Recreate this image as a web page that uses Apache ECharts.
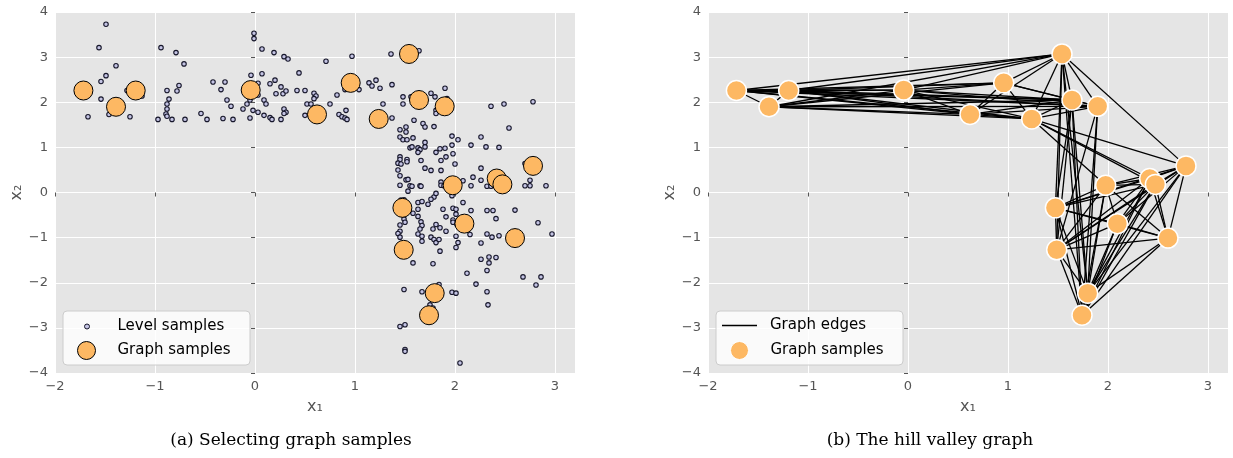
<!DOCTYPE html>
<html>
<head>
<meta charset="utf-8">
<title>Hill valley graph</title>
<script src="https://cdn.jsdelivr.net/npm/echarts@6/dist/echarts.min.js"></script>
<style>
  html, body { margin: 0; padding: 0; background: #fff; }
  #chart { width: 1233px; height: 458px; }
</style>
</head>
<body>
<div id="chart"></div>
<script>
// Graph samples (x1, x2) shared by both panels
const graphX = [-1.716, -1.39, -1.193, -0.043, 0.62, 0.957, 1.237, 1.54, 1.64, 1.897,
                2.78, 1.977, 2.417, 2.474, 1.474, 2.094, 2.60, 1.487, 1.797, 1.74];
const graphY = [2.26, 1.90, 2.26, 2.27, 1.73, 2.43, 1.63, 3.07, 2.05, 1.91,
                0.59, 0.16, 0.31, 0.18, -0.34, -0.69, -1.01, -1.27, -2.23, -2.72];

// Level samples (x1, x2)
const levelSamples = [
  [-1.49, 3.73], [-1.56, 3.21], [-1.54, 2.46], [-1.49, 2.59], [-1.39, 2.81], [-1.54, 2.07],
  [-1.67, 1.68], [-1.46, 1.73], [-1.28, 2.26], [-1.25, 1.68], [-1.13, 2.14], [-1.78, 2.23],
  [-0.94, 3.21], [-0.97, 1.62], [-0.88, 2.26], [-0.86, 2.07], [-0.88, 1.96], [-0.88, 1.85],
  [-0.89, 1.74], [-0.88, 1.69], [-0.83, 1.62], [-0.79, 3.10], [-0.78, 2.25], [-0.76, 2.37],
  [-0.71, 2.85], [-0.70, 1.62], [-0.54, 1.75], [-0.48, 1.62], [-0.42, 2.45], [-0.34, 2.28],
  [-0.30, 2.45], [-0.28, 2.05], [-0.32, 1.64], [-0.24, 1.91], [-0.22, 1.62], [-0.12, 1.85],
  [-0.08, 1.96], [-0.04, 2.60], [-0.05, 2.05], [-0.05, 1.65], [-0.02, 1.82], [-0.01, 3.53],
  [-0.01, 3.41], [0.03, 2.42], [0.03, 2.16], [0.07, 3.18], [0.07, 2.63], [0.03, 1.78],
  [0.09, 2.05], [0.11, 1.96], [0.09, 1.71], [0.15, 2.41], [0.20, 2.49], [0.19, 3.10],
  [0.21, 2.19], [0.15, 1.66], [0.17, 1.62], [0.26, 1.62], [0.26, 2.34], [0.28, 2.19],
  [0.29, 3.01], [0.33, 2.96], [0.31, 2.25], [0.29, 1.85], [0.31, 1.78], [0.29, 1.75],
  [0.44, 2.65], [0.42, 2.26], [0.50, 2.26], [0.50, 1.71], [0.52, 1.96], [0.56, 1.96],
  [0.59, 2.20], [0.61, 2.14], [0.59, 2.08], [0.71, 2.91], [0.75, 1.96], [0.82, 2.16],
  [0.84, 1.73], [0.97, 3.02], [0.90, 2.28], [0.91, 1.82], [0.87, 1.68], [0.90, 1.65],
  [0.92, 1.62], [1.04, 2.28], [1.14, 2.43], [1.17, 2.36], [1.21, 2.49], [1.25, 2.31],
  [1.37, 2.39], [1.28, 1.96], [1.37, 1.65], [1.36, 3.07], [1.64, 3.14], [1.48, 2.12],
  [1.48, 1.96], [1.56, 2.12], [1.59, 1.60], [1.76, 2.20], [1.80, 2.12], [1.90, 2.31],
  [1.92, 2.08], [1.81, 1.82], [1.81, 1.75], [1.68, 1.53], [1.70, 1.45], [1.79, 1.46],
  [1.45, 1.39], [1.51, 1.45], [1.51, 1.34], [1.45, 1.23], [1.48, 1.17], [1.52, 1.17],
  [1.58, 1.21], [1.70, 1.11], [1.55, 0.99], [1.57, 1.01], [1.63, 0.99], [1.65, 0.95],
  [1.70, 1.01], [1.63, 0.89], [1.81, 0.89], [1.85, 0.97], [1.90, 0.98], [1.97, 1.25],
  [2.03, 1.17], [1.97, 1.05], [1.98, 0.86], [2.16, 1.05], [2.26, 1.23], [2.31, 1.01],
  [2.44, 1.00], [2.36, 1.91], [2.49, 1.96], [2.78, 2.01], [2.54, 1.43], [1.45, 0.79],
  [1.45, 0.73], [1.43, 0.65], [1.46, 0.63], [1.52, 0.73], [1.52, 0.68], [1.66, 0.71],
  [1.86, 0.71], [1.91, 0.79], [2.00, 0.63], [1.43, 0.50], [1.45, 0.37], [1.70, 0.54],
  [1.76, 0.49], [1.86, 0.49], [2.26, 0.54], [2.18, 0.34], [2.26, 0.27], [2.08, 0.26],
  [1.51, 0.28], [1.53, 0.29], [1.55, 0.15], [1.57, 0.14], [1.65, 0.15], [1.66, 0.14],
  [1.45, 0.16], [1.86, 0.23], [1.86, 0.16], [2.16, 0.15], [2.32, 0.14], [2.36, 0.14],
  [2.70, 0.64], [2.75, 0.27], [2.70, 0.15], [2.75, 0.15], [2.91, 0.15], [1.53, 0.03],
  [1.79, -0.10], [1.81, -0.02], [1.76, -0.15], [1.49, -0.16], [1.46, -0.17], [1.97, -0.07],
  [1.89, 0.15], [1.73, -0.26], [2.08, -0.22], [2.16, -0.40], [1.63, -0.22], [1.67, -0.20],
  [1.63, -0.37], [1.58, -0.46], [1.63, -0.53], [1.66, -0.65], [1.67, -0.73], [1.65, -0.81],
  [1.63, -0.92], [1.67, -0.97], [1.67, -1.08], [1.49, -0.59], [1.50, -0.66], [1.45, -0.72],
  [1.45, -0.86], [1.43, -0.91], [1.45, -0.99], [1.88, -0.37], [1.91, -0.54], [1.98, -0.35],
  [2.01, -0.37], [2.01, -0.48], [1.98, -0.61], [1.98, -0.66], [2.02, -0.71], [1.91, -0.86],
  [1.81, -0.71], [1.78, -0.81], [1.85, -0.78], [1.76, -0.99], [1.79, -1.04], [1.81, -1.11],
  [1.84, -1.04], [1.85, -1.30], [2.01, -0.97], [2.03, -1.11], [2.01, -1.22], [2.15, -0.93],
  [2.26, -1.12], [2.32, -0.92], [2.37, -0.99], [2.44, -0.96], [2.32, -0.40], [2.38, -0.40],
  [2.41, -0.58], [2.60, -0.39], [2.83, -0.67], [2.97, -0.92], [2.26, -1.48], [2.34, -1.43],
  [2.34, -1.56], [2.41, -1.44], [2.32, -1.73], [2.12, -1.79], [2.21, -2.03], [2.32, -2.20],
  [2.33, -2.49], [2.68, -1.87], [2.86, -1.87], [2.81, -2.05], [1.58, -1.56], [1.78, -1.58],
  [1.49, -2.15], [1.67, -2.20], [1.84, -2.04], [1.97, -2.21], [2.01, -2.23], [1.75, -2.49],
  [1.78, -2.56], [1.45, -2.97], [1.50, -2.93], [1.50, -3.48], [1.50, -3.52], [2.05, -3.78]
];

// Hill valley graph edges, as pairs of graph-sample indices
const graphEdges = [
  [0,1],[0,2],[0,3],[0,4],[0,5],[0,6],[0,7],[0,8],[0,9],
  [1,2],[1,3],[1,4],[1,5],[1,6],[1,7],[1,8],[1,9],
  [2,3],[2,4],[2,5],[2,6],[2,7],[2,8],[2,9],
  [3,4],[3,5],[3,6],[3,7],[3,8],[3,9],
  [4,5],[4,6],[4,7],[4,8],[4,9],
  [5,6],[5,7],[5,8],[5,9],
  [6,7],[6,8],[6,9],
  [7,8],[7,9],
  [8,9],
  [10,11],[10,12],[10,13],[10,14],[10,15],[10,16],[10,17],[10,18],[10,19],
  [11,12],[11,13],[11,14],[11,15],[11,16],[11,17],[11,18],[11,19],
  [12,13],[12,14],[12,15],[12,16],[12,17],[12,18],[12,19],
  [13,14],[13,15],[13,16],[13,17],[13,18],[13,19],
  [14,15],[14,16],[14,17],[14,18],[14,19],
  [15,16],[15,17],[15,18],[15,19],
  [16,17],[16,18],[16,19],
  [17,18],[17,19],
  [18,19],
  [7,10],[7,14],[7,17],[7,18],[7,19],
  [8,14],[8,17],[8,18],[8,19],
  [9,17],[9,18],[9,19],
  [6,10],[6,11],[6,12],[6,13]
];

// Axis ticks
const xTicks = [-2, -1, 0, 1, 2, 3];
const yTicks = [-4, -3, -2, -1, 0, 1, 2, 3, 4];

const FONT = 'DejaVu Sans';
const ORANGE = '#FDB863';

const graphPoints = graphX.map((x, i) => [x, graphY[i]]);
const edgeData = graphEdges.map(([a, b]) => ({ coords: [graphPoints[a], graphPoints[b]] }));

const tickFmt = v => (v < 0 ? '\u2212' + Math.abs(v) : String(v));

function xAxisFor(gridIndex) {
  return {
    type: 'value', gridIndex,
    min: xTicks[0], max: 3.2, interval: 1,
    name: 'x\u2081', nameLocation: 'middle', nameGap: 26,
    nameTextStyle: { fontFamily: FONT, fontSize: 16, color: '#555' },
    axisLine: { show: false },
    axisTick: { show: true, length: 4, lineStyle: { color: '#555' } },
    axisLabel: { color: '#555', fontFamily: FONT, fontSize: 13, margin: 7,
                 showMaxLabel: false, formatter: tickFmt },
    splitLine: { show: true, lineStyle: { color: '#fff', width: 1 } }
  };
}
function yAxisFor(gridIndex) {
  return {
    type: 'value', gridIndex,
    min: yTicks[0], max: yTicks[yTicks.length - 1], interval: 1,
    name: 'x\u2082', nameLocation: 'middle', nameGap: 30, nameRotate: 90,
    nameTextStyle: { fontFamily: FONT, fontSize: 16, color: '#555' },
    axisLine: { show: false },
    axisTick: { show: true, length: 4, lineStyle: { color: '#555' } },
    axisLabel: { color: '#555', fontFamily: FONT, fontSize: 13, margin: 7, formatter: tickFmt },
    splitLine: { show: true, lineStyle: { color: '#fff', width: 1 } }
  };
}

function legendAt(item, left, top, w, h, pad) {
  return {
    data: [item], left, top, orient: 'horizontal', padding: 0,
    itemWidth: w, itemHeight: h, selectedMode: false, z: 6,
    textStyle: { fontFamily: FONT, fontSize: 15, color: '#000', padding: [0, 0, 0, pad] }
  };
}

const chart = echarts.init(document.getElementById('chart'), null, { renderer: 'canvas' });
chart.setOption({
  animation: false,
  backgroundColor: '#fff',
  grid: [
    { left: 55, right: 658, top: 12, bottom: 85, show: true, backgroundColor: '#E5E5E5', borderWidth: 0 },
    { left: 708, right: 5, top: 12, bottom: 85, show: true, backgroundColor: '#E5E5E5', borderWidth: 0 }
  ],
  xAxis: [xAxisFor(0), xAxisFor(1)],
  yAxis: [yAxisFor(0), yAxisFor(1)],
  legend: [
    legendAt({ name: 'Level samples', itemStyle: { color: '#c4c4e4', borderColor: '#16162a', borderWidth: 1 } }, 84, 319, 5, 5, 23),
    legendAt({ name: 'Graph samples', itemStyle: { color: ORANGE, borderColor: '#000', borderWidth: 1 } }, 77, 341, 18, 18, 17),
    legendAt({ name: 'Graph edges', icon: 'rect', itemStyle: { color: '#000', borderWidth: 0 } }, 722, 318, 35, 1.5, 8),
    legendAt({ name: 'Graph samples', itemStyle: { color: ORANGE, borderColor: '#fff', borderWidth: 1 } }, 730, 341, 18, 18, 17)
  ],
  series: [
    {
      name: 'Level samples', type: 'scatter', xAxisIndex: 0, yAxisIndex: 0,
      symbol: 'circle', symbolSize: 4.5, data: levelSamples,
      itemStyle: { color: '#c4c4e4', borderColor: '#16162a', borderWidth: 1.1, opacity: 1 },
      z: 2
    },
    {
      name: 'Graph samples', type: 'scatter', xAxisIndex: 0, yAxisIndex: 0,
      symbol: 'circle', symbolSize: 19, data: graphPoints,
      itemStyle: { color: ORANGE, borderColor: '#000', borderWidth: 1, opacity: 1 },
      z: 3
    },
    {
      name: 'Graph edges', type: 'lines', coordinateSystem: 'cartesian2d',
      xAxisIndex: 1, yAxisIndex: 1, data: edgeData,
      lineStyle: { color: '#000', width: 1.3, opacity: 1, curveness: 0 },
      z: 2
    },
    {
      name: 'Graph samples', type: 'scatter', xAxisIndex: 1, yAxisIndex: 1,
      symbol: 'circle', symbolSize: 20, data: graphPoints,
      itemStyle: { color: ORANGE, borderColor: '#fff', borderWidth: 1.5, opacity: 1 },
      z: 3
    }
  ],
  graphic: [
    { type: 'rect', z: 5, shape: { x: 63, y: 311, width: 187, height: 54, r: 4 },
      style: { fill: 'rgba(255,255,255,0.8)', stroke: '#cccccc', lineWidth: 1 } },
    { type: 'rect', z: 5, shape: { x: 716, y: 311, width: 187, height: 54, r: 4 },
      style: { fill: 'rgba(255,255,255,0.8)', stroke: '#cccccc', lineWidth: 1 } },
    { type: 'text', z: 5, x: 291, y: 441,
      style: { text: '(a) Selecting graph samples', textAlign: 'center', textVerticalAlign: 'middle',
               font: '17px "DejaVu Serif"', fill: '#000' } },
    { type: 'text', z: 5, x: 930, y: 441,
      style: { text: '(b) The hill valley graph', textAlign: 'center', textVerticalAlign: 'middle',
               font: '17px "DejaVu Serif"', fill: '#000' } }
  ]
});
</script>
</body>
</html>
